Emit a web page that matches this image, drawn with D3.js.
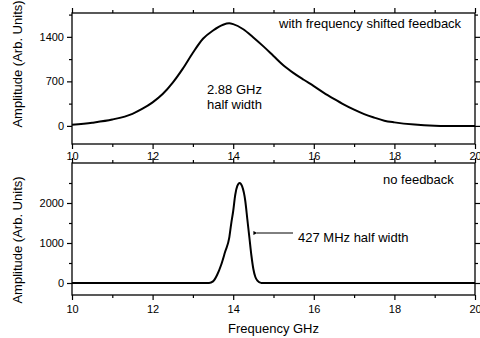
<!DOCTYPE html>
<html>
<head>
<meta charset="utf-8">
<script src="https://cdn.jsdelivr.net/npm/d3@7"></script>
<style>
  body { margin:0; background:#fff; }
  svg { display:block; font-family:"Liberation Sans", Arial, sans-serif; }
  .axis path { display:none; }
  .axis line { stroke:#000; stroke-width:1.2px; }
  .axis text { font-size:11px; fill:#000; }
</style>
</head>
<body>
<div id="chart"></div>
<script>
// with frequency shifted feedback
var topFreq = [10, 10.5, 11, 11.5, 11.75, 12, 12.25, 12.5, 12.75, 13, 13.25, 13.5, 13.75, 13.9, 14, 14.25, 14.5, 14.75, 15, 15.25, 15.5, 15.75, 16, 16.25, 16.5, 16.75, 17, 17.25, 17.5, 17.75, 18, 18.5, 19, 19.25, 20]
var topAmp  = [16, 50, 100, 190, 270, 370, 500, 680, 900, 1150, 1370, 1500, 1590, 1612, 1600, 1520, 1390, 1250, 1100, 950, 830, 725, 625, 520, 425, 335, 255, 185, 130, 82, 55, 20, 3, 0, 0]

// no feedback
var botFreq = [10, 13.4, 13.5, 13.6, 13.7, 13.8, 13.9, 13.95, 14.0, 14.05, 14.1, 14.16, 14.22, 14.3, 14.35, 14.4, 14.45, 14.5, 14.55, 14.6, 14.7, 20]
var botAmp  = [0, 0, 40, 200, 450, 780, 1120, 1480, 1800, 2200, 2420, 2500, 2420, 2050, 1600, 1150, 700, 350, 150, 60, 0, 0]

var xTicks = [10, 12, 14, 16, 18, 20]
var xMinor = [11, 13, 15, 17, 19]
var topTicks = [0, 700, 1400]
var topMinor = [350, 1050, 1750]
var botTicks = [0, 1000, 2000]
var botMinor = [500, 1500, 2500]

var W = 480, H = 338
var left = 72, right = 475

var svg = d3.select("#chart").append("svg")
    .attr("width", W)
    .attr("height", H)

var x = d3.scaleLinear().domain([10, 20]).range([left, right])

function zip(a, b){
    return a.map(function(d, i){ return { f: d, v: b[i] }; })
}

function drawPanel(cfg){
    var y = d3.scaleLinear().domain(cfg.domain).range([cfg.bottom, cfg.top])
    var g = svg.append("g")

    // x axes, bottom with labels, top without
    g.append("g").attr("class", "axis")
        .attr("transform", "translate(0," + cfg.bottom + ")")
        .call(d3.axisBottom(x).tickValues(xTicks).tickSize(5).tickPadding(cfg.xPad).tickFormat(d3.format("d")))
    g.append("g").attr("class", "axis")
        .attr("transform", "translate(0," + cfg.bottom + ")")
        .call(d3.axisBottom(x).tickValues(xMinor).tickSize(3).tickFormat(""))
    g.append("g").attr("class", "axis")
        .attr("transform", "translate(0," + cfg.top + ")")
        .call(d3.axisTop(x).tickValues(xTicks).tickSize(5).tickFormat(""))
    g.append("g").attr("class", "axis")
        .attr("transform", "translate(0," + cfg.top + ")")
        .call(d3.axisTop(x).tickValues(xMinor).tickSize(3).tickFormat(""))

    // y axes
    g.append("g").attr("class", "axis")
        .attr("transform", "translate(" + left + ",0)")
        .call(d3.axisLeft(y).tickValues(cfg.ticks).tickSize(5).tickPadding(3).tickFormat(d3.format("d")))
    g.append("g").attr("class", "axis")
        .attr("transform", "translate(" + left + ",0)")
        .call(d3.axisLeft(y).tickValues(cfg.minor).tickSize(3).tickFormat(""))
    g.append("g").attr("class", "axis")
        .attr("transform", "translate(" + right + ",0)")
        .call(d3.axisRight(y).tickValues(cfg.ticks).tickSize(5).tickFormat(""))
    g.append("g").attr("class", "axis")
        .attr("transform", "translate(" + right + ",0)")
        .call(d3.axisRight(y).tickValues(cfg.minor).tickSize(3).tickFormat(""))

    g.append("rect")
        .attr("x", left)
        .attr("y", cfg.top)
        .attr("width", right - left)
        .attr("height", cfg.bottom - cfg.top)
        .attr("fill", "none")
        .attr("stroke", "#000")
        .attr("stroke-width", 1.3)

    var line = d3.line()
        .x(function(d){ return x(d.f); })
        .y(function(d){ return y(d.v); })
        .curve(d3.curveMonotoneX)

    g.append("path")
        .datum(cfg.data)
        .attr("d", line)
        .attr("fill", "none")
        .attr("stroke", "#000")
        .attr("stroke-width", 2)
        .attr("stroke-linejoin", "round")

    g.append("text")
        .attr("transform", "translate(22," + cfg.labelY + ") rotate(-90)")
        .attr("text-anchor", "middle")
        .attr("font-size", "13px")
        .text("Amplitude (Arb. Units)")
    return g
}

var gTop = drawPanel({
    top: 13, bottom: 144, domain: [-285, 1775],
    ticks: topTicks, minor: topMinor, xPad: 3,
    data: zip(topFreq, topAmp), labelY: 64
})

var gBot = drawPanel({
    top: 163, bottom: 295, domain: [-300, 3000],
    ticks: botTicks, minor: botMinor, xPad: 5,
    data: zip(botFreq, botAmp), labelY: 240
})

// annotations
svg.append("text").attr("x", 279).attr("y", 28).attr("font-size", "13px")
    .text("with frequency shifted feedback")
svg.append("text").attr("x", 207).attr("y", 94).attr("font-size", "13px")
    .text("2.88 GHz")
svg.append("text").attr("x", 207).attr("y", 109).attr("font-size", "13px")
    .text("half width")
svg.append("text").attr("x", 383).attr("y", 184).attr("font-size", "13px")
    .text("no feedback")
svg.append("text").attr("x", 298).attr("y", 242).attr("font-size", "13px")
    .text("427 MHz half width")

svg.append("defs").append("marker")
    .attr("id", "arrow")
    .attr("viewBox", "0 0 10 10")
    .attr("refX", 1).attr("refY", 5)
    .attr("markerWidth", 6).attr("markerHeight", 4)
    .attr("markerUnits", "userSpaceOnUse")
    .attr("orient", "auto-start-reverse")
  .append("path")
    .attr("d", "M0,5L10,0L10,10Z")
    .attr("fill", "#000")

svg.append("line")
    .attr("x1", 293).attr("y1", 233)
    .attr("x2", 257).attr("y2", 233)
    .attr("stroke", "#000").attr("stroke-width", 1)
    .attr("marker-end", "url(#arrow)")

svg.append("text")
    .attr("x", (left + right) / 2)
    .attr("y", 333)
    .attr("text-anchor", "middle")
    .attr("font-size", "13px")
    .text("Frequency GHz")
</script>
</body>
</html>
